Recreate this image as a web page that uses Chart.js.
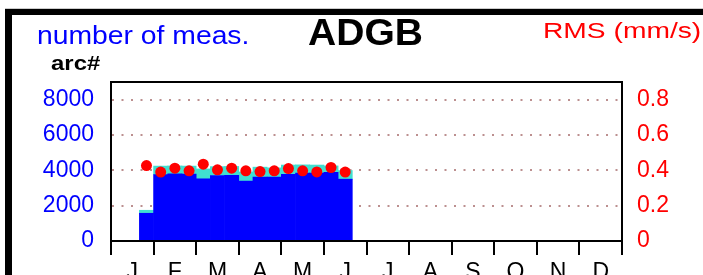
<!DOCTYPE html>
<html>
<head>
<meta charset="utf-8">
<script src="https://cdn.jsdelivr.net/npm/chart.js@4"></script>
<style>
  body { margin: 0; background: #fff; width: 703px; height: 275px; overflow: hidden; position: relative; font-family: "Liberation Sans", Arial, sans-serif; }
  #frame { position: absolute; left: 5px; top: 9px; width: 900px; height: 400px; border-left: 7px solid #000; border-top: 6px solid #000; box-shadow: 0 -1px 0 #ccc; }
  canvas { position: absolute; left: 0; top: 0; }
  .lbl { position: absolute; white-space: nowrap; line-height: 1; transform-origin: 0 0; }
</style>
</head>
<body>
<div id="frame"></div>
<canvas id="chart" width="703" height="275"></canvas>
<div class="lbl" style="left:37px; top:23.4px; font-size:25.5px; color:#0000ff; transform:scaleX(1.11)">number of meas.</div>
<div class="lbl" style="left:50.7px; top:52.2px; font-size:21px; font-weight:bold; color:#000; transform:scaleX(1.14)">arc#</div>
<div class="lbl" style="left:308px; top:13.7px; font-size:37px; font-weight:bold; color:#000; transform:scaleX(1.055)">ADGB</div>
<div class="lbl" style="left:543px; top:19.5px; font-size:22.4px; color:#ff0000; transform:scaleX(1.26)">RMS (mm/s)</div>
<script>
// month letters on the x axis, three 10-day bins per month
const months = ['J', 'F', 'M', 'A', 'M', 'J', 'J', 'A', 'S', 'O', 'N', 'D'];
const bins = [];
months.forEach((m, i) => { for (let k = 1; k <= 3; k++) bins.push(m + (i + 1) + '-' + k); });

// number of measurements per bin (blue part and cyan part on top)
const blueCounts = [null, null, 1570, 3760, 3800, 3790, 3520, 3710, 3720, 3390, 3620, 3620, 3780, 3840, 3840, 3880, 3500,
  null, null, null, null, null, null, null, null, null, null, null, null, null, null, null, null, null, null, null];
const cyanCounts = [null, null, 170, 480, 450, 450, 560, 500, 500, 520, 560, 520, 520, 470, 460, 370, 490,
  null, null, null, null, null, null, null, null, null, null, null, null, null, null, null, null, null, null, null];

// RMS in mm/s per bin
const rms = [null, null, 0.427, 0.390, 0.412, 0.397, 0.435, 0.403, 0.412, 0.397, 0.393, 0.397, 0.410, 0.397, 0.391, 0.416, 0.390,
  null, null, null, null, null, null, null, null, null, null, null, null, null, null, null, null, null, null, null];

const countTicks = [0, 2000, 4000, 6000, 8000];
const rmsTicks = [0, 0.2, 0.4, 0.6, 0.8];

// black box round the plot area
const frame = {
  id: 'frame',
  afterDraw(chart) {
    const a = chart.chartArea, c = chart.ctx;
    c.save();
    c.strokeStyle = '#000';
    c.lineWidth = 2;
    c.strokeRect(a.left, a.top, a.right - a.left, a.bottom - a.top);
    c.restore();
  }
};

const monthEdge = c => (c.index === undefined || c.index % 3 === 0) ? '#000' : 'rgba(0,0,0,0)';

const ctx = document.getElementById('chart').getContext('2d');
new Chart(ctx, {
  type: 'bar',
  data: {
    labels: bins,
    datasets: [
      {
        type: 'line',
        label: 'RMS',
        data: rms,
        yAxisID: 'y1',
        showLine: false,
        pointRadius: 5.5,
        pointBackgroundColor: '#ff0000',
        pointBorderWidth: 0,
        order: 0
      },
      {
        label: 'meas.',
        data: blueCounts,
        backgroundColor: '#0000ff',
        barPercentage: 1,
        categoryPercentage: 1,
        order: 1
      },
      {
        label: 'extra',
        data: cyanCounts,
        backgroundColor: '#40e0d0',
        barPercentage: 1,
        categoryPercentage: 1,
        order: 1
      }
    ]
  },
  options: {
    responsive: false,
    devicePixelRatio: 1,
    animation: false,
    layout: { padding: { top: 82, left: 0, right: 0, bottom: 0 } },
    plugins: { legend: { display: false }, tooltip: { enabled: false } },
    scales: {
      x: {
        stacked: true,
        offset: true,
        border: { display: true, color: '#000', width: 2 },
        grid: {
          offset: true,
          drawOnChartArea: false,
          tickLength: 14,
          lineWidth: 2,
          tickWidth: 2,
          color: monthEdge,
          tickColor: monthEdge
        },
        ticks: {
          autoSkip: false,
          maxRotation: 0,
          padding: 4,
          color: '#000',
          font: { size: 23, family: '"Liberation Sans", Arial, sans-serif' },
          callback: (v, i) => i % 3 === 1 ? months[(i - 1) / 3] : ''
        },
        afterFit: s => { s.height = 34; }
      },
      y: {
        position: 'left',
        stacked: true,
        min: 0,
        max: 9000,
        border: { display: true, color: '#000', width: 2, dash: [2, 7.5] },
        grid: {
          drawTicks: false,
          color: c => c.tick && c.tick.value > 0 ? '#bc8f8f' : 'rgba(0,0,0,0)',
          lineWidth: 2
        },
        afterBuildTicks: s => { s.ticks = countTicks.map(v => ({ value: v })); },
        ticks: {
          padding: 17,
          color: '#0000ff',
          font: { size: 23, family: '"Liberation Sans", Arial, sans-serif' },
          callback: v => String(v)
        },
        afterFit: s => { s.width = 111; }
      },
      y1: {
        position: 'right',
        min: 0,
        max: 0.9,
        border: { display: true, color: '#000', width: 2 },
        grid: { display: false, drawTicks: false },
        afterBuildTicks: s => { s.ticks = rmsTicks.map(v => ({ value: v })); },
        ticks: {
          padding: 15,
          color: '#ff0000',
          font: { size: 23, family: '"Liberation Sans", Arial, sans-serif' },
          callback: v => v === 0 ? '0' : v.toFixed(1)
        },
        afterFit: s => { s.width = 81; }
      }
    }
  },
  plugins: [frame]
});
</script>
</body>
</html>
